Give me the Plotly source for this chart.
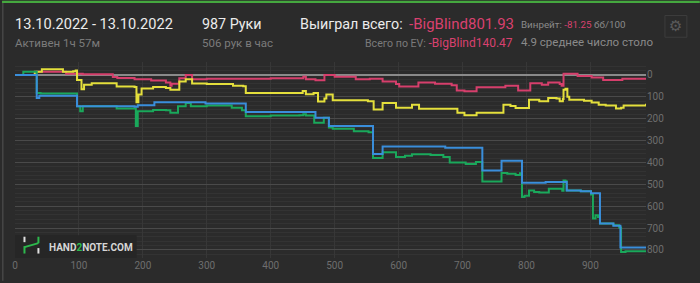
import plotly.graph_objects as go

# ---------------- data (hands, cumulative loss in big blinds, axis shown reversed) -------------
red_h = [0, 31, 34, 75, 80, 106, 153, 160, 187, 213, 236, 243, 245, 257, 267, 277, 300, 341, 400, 451, 455, 470, 484,
         487, 500, 533, 555, 575, 596, 601, 631, 657, 683, 691, 703, 722, 735, 767, 787, 806, 824, 834, 852, 855, 858,
         880, 902, 920, 950, 987]
red_v = [0, -10, -15, -15, -5, -3, 10, 14, 20, 26, 35, 49, 40, 15, 0, 20, 17, 18, 15, 8, 20, 24, 0,
         0, 8, 20, 17, 30, 41, 53, 35, 40, 47, 71, 75, 56, 56, 50, 71, 38, 45, 35, 42, 50, -5,
         5, 12, 23, 18, 16]

yel_h = [0, 31, 42, 75, 91, 95, 97, 104, 108, 120, 159, 187, 190, 193, 198, 216, 236, 243, 257, 267, 277, 300, 341,
         357, 361, 400, 450, 455, 467, 474, 484, 487, 497, 552, 561, 575, 596, 621, 632, 692, 703, 722, 735, 761, 764,
         775, 783, 804, 820, 834, 847, 852, 857, 858, 861, 864, 867, 890, 902, 913, 924, 940, 948, 952, 987]
yel_v = [0, -15, -26, -14, -17, -20, 23, 65, 45, 38, 53, 55, 125, 90, 62, 55, 60, 68, 30, 20, 39, 42, 50,
         52, 83, 83, 73, 88, 83, 121, 108, 90, 116, 120, 158, 128, 150, 136, 155, 173, 184, 173, 173, 173, 136,
         142, 151, 113, 120, 105, 108, 120, 110, 68, 63, 100, 113, 118, 126, 136, 140, 154, 150, 140, 132]

blu_h = [0, 34, 38, 97, 187, 192, 218, 298, 361, 470, 491, 560, 575, 673, 731, 761, 793, 830, 863, 885, 901, 915, 936,
         947, 987]
blu_v = [0, 106, 95, 143, 146, 139, 125, 131, 170, 196, 234, 362, 327, 333, 437, 392, 493, 490, 528, 532, 541, 679, 690,
         789, 789]

grn_h = [0, 13, 34, 40, 97, 102, 106, 130, 159, 187, 189, 192, 216, 236, 243, 255, 267, 275, 300, 339, 355, 361, 400,
         445, 451, 455, 466, 468, 483, 491, 497, 530, 553, 560, 575, 596, 610, 621, 650, 670, 680, 691, 705, 721, 731,
         761, 770, 783, 790, 793, 797, 804, 812, 820, 835, 856, 858, 861, 863, 885, 901, 904, 908, 912, 915, 936, 945,
         948, 955, 987]
grn_v = [0, -15, 83, 85, 143, 166, 143, 143, 154, 154, 234, 166, 160, 161, 173, 143, 128, 143, 140, 150, 161, 189, 186,
         184, 180, 186, 186, 219, 196, 240, 246, 257, 262, 380, 354, 375, 370, 363, 366, 375, 400, 400, 407, 398, 487,
         448, 452, 458, 450, 558, 552, 528, 535, 538, 520, 530, 483, 486, 528, 532, 547, 656, 642, 650, 679, 687, 697,
         810, 806, 804]

x_ticks = [0, 100, 200, 300, 400, 500, 600, 700, 800, 900]
y_ticks = [0, 100, 200, 300, 400, 500, 600, 700, 800]

# ---------------- styling helpers (pixel -> paper) ----------------
L, R, T, B = 13, 646, 62, 260
W, H = 700, 283


def px(x):
    return (x - L) / (R - L)


def py(y):
    return (B - y) / (B - T)


BG = "#2b2b2b"
PINK = "#d9416f"

fig = go.Figure()
for h, v, c in [(red_h, red_v, "#d63f6c"), (yel_h, yel_v, "#e4df3c"),
                (grn_h, grn_v, "#1aa85b"), (blu_h, blu_v, "#3a8edb")]:
    fig.add_trace(go.Scatter(x=h, y=v, mode="lines", line=dict(color=c, width=2, shape="hv"),
                             hoverinfo="skip", showlegend=False))

fig.update_layout(
    width=W, height=H,
    margin=dict(l=L, r=W - R, t=T, b=H - B, pad=0),
    paper_bgcolor=BG, plot_bgcolor=BG,
    font=dict(family="Roboto", color="#7a7a7a", size=10),
    showlegend=False,
    xaxis=dict(range=[0, 987], tickvals=x_ticks, ticktext=[str(t) for t in x_ticks],
               showgrid=True, gridcolor="#373737", gridwidth=1, zeroline=False,
               showline=False, ticks="", tickfont=dict(color="#6e6e6e", size=10), fixedrange=True),
    yaxis=dict(range=[837, -59], side="right", tickvals=y_ticks, ticktext=[str(t) for t in y_ticks],
               showgrid=True, gridcolor="#4a4a4a", gridwidth=1,
               zeroline=True, zerolinecolor="#8a8a8a", zerolinewidth=1.5,
               minor=dict(dtick=20, showgrid=True, gridcolor="#333333", gridwidth=1),
               showline=False, ticks="", tickfont=dict(color="#6e6e6e", size=10), fixedrange=True),
)

shapes = []
# top green border and left edge
shapes.append(dict(type="rect", xref="paper", yref="paper", x0=px(0), x1=px(700), y0=py(0), y1=py(2.5),
                   fillcolor="#45a83f", line=dict(width=0), layer="above"))
shapes.append(dict(type="rect", xref="paper", yref="paper", x0=px(0), x1=px(1.5), y0=py(2.5), y1=py(283),
                   fillcolor="#474747", line=dict(width=0), layer="above"))
# gear box
shapes.append(dict(type="rect", xref="paper", yref="paper", x0=px(665), x1=px(687), y0=py(15), y1=py(37),
                   fillcolor="rgba(0,0,0,0)", line=dict(width=1, color="#3d3d3d"), layer="above"))
# watermark box
shapes.append(dict(type="rect", xref="paper", yref="paper", x0=px(13), x1=px(135), y0=py(237), y1=py(260),
                   fillcolor="#262626", line=dict(width=0), layer="above"))
# logo "H"
for (x0, x1, y0, y1, c) in [(21.5, 23.5, 238.5, 244, "#e0e0e0"), (21.5, 23.5, 248, 255.5, "#2db84d"),
                            (35.5, 37.5, 238.5, 245, "#2db84d"), (35.5, 37.5, 250, 255.5, "#e0e0e0")]:
    shapes.append(dict(type="rect", xref="paper", yref="paper", x0=px(x0), x1=px(x1), y0=py(y0), y1=py(y1),
                       fillcolor=c, line=dict(width=0), layer="above"))
shapes.append(dict(type="line", xref="paper", yref="paper", x0=px(22.5), x1=px(36.5), y0=py(249), y1=py(245),
                   line=dict(color="#2db84d", width=2), layer="above"))
fig.update_layout(shapes=shapes)

ann = []


def text(x, y, s, size, color, anchor="left", family="Roboto"):
    ann.append(dict(xref="paper", yref="paper", x=px(x), y=py(y), text=s, showarrow=False,
                    xanchor=anchor, yanchor="middle", font=dict(size=size, color=color, family=family),
                    borderpad=0))


text(12, 23.5, "13.10.2022 - 13.10.2022", 14.6, "#ececec")
text(12, 43, "Активен 1ч 57м", 11.5, "#7b7b7b")
text(200, 23.5, "987 Руки", 14.3, "#ececec")
text(200, 43, "506 рук в час", 11.5, "#7b7b7b")
text(298, 23.5, "Выиграл всего:", 14.3, "#ececec")
text(515, 23.5, "-BigBlind801.93", 15, PINK, anchor="right")
text(520, 24, "Винрейт: <span style='color:%s'>-81.25</span> бб/100" % PINK, 9.8, "#8a8a8a")
text(514, 42.5, "Всего по EV: <span style='color:%s;font-size:12px'>-BigBlind140.47</span>" % PINK,
     10.6, "#7b7b7b", anchor="right")
text(520, 42, "4.9 среднее число столо", 11.5, "#8a8a8a")
text(676, 26, "⚙", 15, "#5a5a5a", anchor="center", family="DejaVu Sans")
text(46, 249, "<b>HAND<span style='color:#2db84d'>2</span>NOTE.COM</b>", 10, "#d6d6d6")
fig.update_layout(annotations=ann)

fig.write_html("out.html")
